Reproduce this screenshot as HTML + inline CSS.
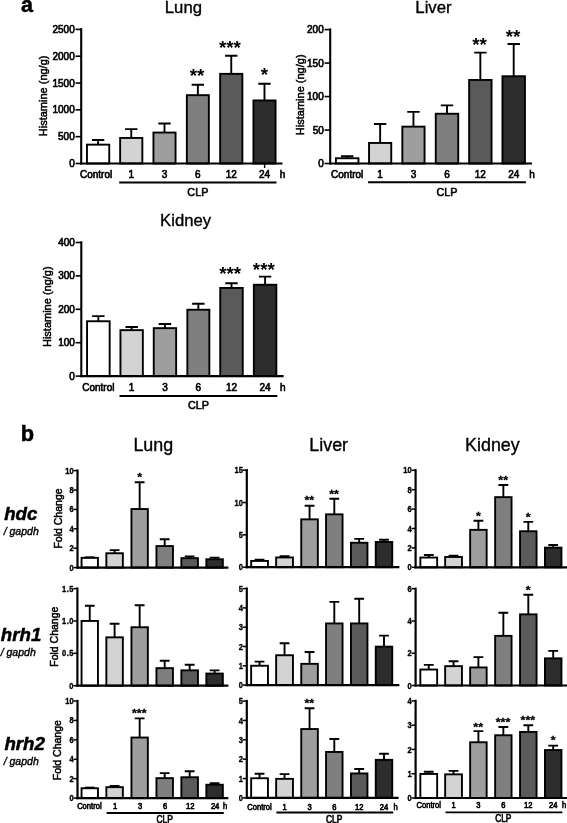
<!DOCTYPE html>
<html lang="en">
<head>
<meta charset="utf-8">
<title>Histamine figure</title>
<style>
html,body{margin:0;padding:0;background:#fff;}
body{width:567px;height:823px;overflow:hidden;}
svg{display:block;font-family:'Liberation Sans',sans-serif;fill:#000;}
svg text{font-family:'Liberation Sans',sans-serif;}
</style>
</head>
<body>
<svg width="567" height="823" viewBox="0 0 567 823">
<rect width="567" height="823" fill="#fff"/>
<text x="20.9" y="11.7" font-size="21.5" font-weight="bold" stroke="#000" stroke-width="0.5">a</text>
<text x="183.4" y="13.4" font-size="16.7" text-anchor="middle" stroke="#000" stroke-width="0.35">Lung</text>
<text x="433.5" y="13.4" font-size="16.8" text-anchor="middle" stroke="#000" stroke-width="0.35">Liver</text>
<text x="185.6" y="226.1" font-size="16.7" text-anchor="middle" stroke="#000" stroke-width="0.35">Kidney</text>
<rect x="86.95" y="144.65" width="22.3" height="18.85" fill="#ffffff" stroke="#000" stroke-width="1.9"/>
<path d="M98.1 144.7V140M91.9 140H104.3" stroke="#000" stroke-width="1.9" fill="none"/>
<rect x="120.15" y="137.95" width="22.2" height="25.55" fill="#d3d3d3" stroke="#000" stroke-width="1.9"/>
<path d="M131.25 138V129.1M125.05 129.1H137.45" stroke="#000" stroke-width="1.9" fill="none"/>
<rect x="153.45" y="132.55" width="22.1" height="30.95" fill="#9e9e9e" stroke="#000" stroke-width="1.9"/>
<path d="M164.5 132.6V123.5M158.3 123.5H170.7" stroke="#000" stroke-width="1.9" fill="none"/>
<rect x="186.85" y="95.15" width="22" height="68.35" fill="#7f7f7f" stroke="#000" stroke-width="1.9"/>
<path d="M197.85 95.2V84.7M191.65 84.7H204.05" stroke="#000" stroke-width="1.9" fill="none"/>
<rect x="220.15" y="73.85" width="22.2" height="89.65" fill="#5a5a5a" stroke="#000" stroke-width="1.9"/>
<path d="M231.25 73.9V55.8M225.05 55.8H237.45" stroke="#000" stroke-width="1.9" fill="none"/>
<rect x="253.45" y="100.45" width="22.1" height="63.05" fill="#2d2d2d" stroke="#000" stroke-width="1.9"/>
<path d="M264.5 100.5V83.7M258.3 83.7H270.7" stroke="#000" stroke-width="1.9" fill="none"/>
<path d="M81.2 28.2V164.55" stroke="#000" stroke-width="2.1" fill="none"/>
<path d="M80.15 163.5H282.5" stroke="#000" stroke-width="2.1" fill="none"/>
<path d="M75.55 163.5H81.2" stroke="#000" stroke-width="1.6" fill="none"/>
<text x="74.75" y="167.08" font-size="10" text-anchor="end" stroke="#000" stroke-width="0.62">0</text>
<path d="M75.55 136.68H81.2" stroke="#000" stroke-width="1.6" fill="none"/>
<text x="74.75" y="140.26" font-size="10" text-anchor="end" stroke="#000" stroke-width="0.62">500</text>
<path d="M75.55 109.86H81.2" stroke="#000" stroke-width="1.6" fill="none"/>
<text x="74.75" y="113.44" font-size="10" text-anchor="end" stroke="#000" stroke-width="0.62">1000</text>
<path d="M75.55 83.04H81.2" stroke="#000" stroke-width="1.6" fill="none"/>
<text x="74.75" y="86.62" font-size="10" text-anchor="end" stroke="#000" stroke-width="0.62">1500</text>
<path d="M75.55 56.22H81.2" stroke="#000" stroke-width="1.6" fill="none"/>
<text x="74.75" y="59.8" font-size="10" text-anchor="end" stroke="#000" stroke-width="0.62">2000</text>
<path d="M75.55 29.4H81.2" stroke="#000" stroke-width="1.6" fill="none"/>
<text x="74.75" y="32.98" font-size="10" text-anchor="end" stroke="#000" stroke-width="0.62">2500</text>
<path d="M264.6 163.5V168" stroke="#000" stroke-width="1.4" fill="none"/>
<text x="197.1" y="82.38" font-size="18.8" text-anchor="middle" font-weight="bold">**</text>
<text x="229.95" y="54.08" font-size="18.8" text-anchor="middle" font-weight="bold">***</text>
<text x="264.3" y="81.38" font-size="18.8" text-anchor="middle" font-weight="bold">*</text>
<text x="96.1" y="177.68" font-size="10" text-anchor="middle" stroke="#000" stroke-width="0.62">Control</text>
<text x="131.25" y="177.68" font-size="10" text-anchor="middle" stroke="#000" stroke-width="0.62">1</text>
<text x="164.5" y="177.68" font-size="10" text-anchor="middle" stroke="#000" stroke-width="0.62">3</text>
<text x="197.85" y="177.68" font-size="10" text-anchor="middle" stroke="#000" stroke-width="0.62">6</text>
<text x="231.25" y="177.68" font-size="10" text-anchor="middle" stroke="#000" stroke-width="0.62">12</text>
<text x="264.5" y="177.68" font-size="10" text-anchor="middle" stroke="#000" stroke-width="0.62">24</text>
<text x="282.5" y="177.68" font-size="10" text-anchor="middle" stroke="#000" stroke-width="0.62">h</text>
<path d="M119.2 182.6H276.5" stroke="#000" stroke-width="2.0" fill="none"/>
<text x="197.85" y="195.87" font-size="10.8" text-anchor="middle" stroke="#000" stroke-width="0.56">CLP</text>
<text transform="translate(47.1 95.9) rotate(-90)" font-size="11" text-anchor="middle" stroke="#000" stroke-width="0.5">Histamine (ng/g)</text>
<rect x="335.95" y="158.25" width="22.5" height="5.25" fill="#ffffff" stroke="#000" stroke-width="1.9"/>
<path d="M347.2 158.3V156.3M341 156.3H353.4" stroke="#000" stroke-width="1.9" fill="none"/>
<rect x="369.05" y="142.95" width="22.2" height="20.55" fill="#d3d3d3" stroke="#000" stroke-width="1.9"/>
<path d="M380.15 143V124M373.95 124H386.35" stroke="#000" stroke-width="1.9" fill="none"/>
<rect x="402.35" y="126.65" width="22.2" height="36.85" fill="#9e9e9e" stroke="#000" stroke-width="1.9"/>
<path d="M413.45 126.7V111.9M407.25 111.9H419.65" stroke="#000" stroke-width="1.9" fill="none"/>
<rect x="435.75" y="113.75" width="22.5" height="49.75" fill="#7f7f7f" stroke="#000" stroke-width="1.9"/>
<path d="M447 113.8V105.4M440.8 105.4H453.2" stroke="#000" stroke-width="1.9" fill="none"/>
<rect x="469.15" y="79.95" width="22.4" height="83.55" fill="#5a5a5a" stroke="#000" stroke-width="1.9"/>
<path d="M480.35 80V52.6M474.15 52.6H486.55" stroke="#000" stroke-width="1.9" fill="none"/>
<rect x="502.45" y="76.25" width="22.5" height="87.25" fill="#2d2d2d" stroke="#000" stroke-width="1.9"/>
<path d="M513.7 76.3V44M507.5 44H519.9" stroke="#000" stroke-width="1.9" fill="none"/>
<path d="M330.2 28.4V164.55" stroke="#000" stroke-width="2.1" fill="none"/>
<path d="M329.15 163.5H532" stroke="#000" stroke-width="2.1" fill="none"/>
<path d="M324.55 163.5H330.2" stroke="#000" stroke-width="1.6" fill="none"/>
<text x="323.75" y="167.08" font-size="10" text-anchor="end" stroke="#000" stroke-width="0.62">0</text>
<path d="M324.55 130.03H330.2" stroke="#000" stroke-width="1.6" fill="none"/>
<text x="323.75" y="133.61" font-size="10" text-anchor="end" stroke="#000" stroke-width="0.62">50</text>
<path d="M324.55 96.55H330.2" stroke="#000" stroke-width="1.6" fill="none"/>
<text x="323.75" y="100.13" font-size="10" text-anchor="end" stroke="#000" stroke-width="0.62">100</text>
<path d="M324.55 63.08H330.2" stroke="#000" stroke-width="1.6" fill="none"/>
<text x="323.75" y="66.66" font-size="10" text-anchor="end" stroke="#000" stroke-width="0.62">150</text>
<path d="M324.55 29.6H330.2" stroke="#000" stroke-width="1.6" fill="none"/>
<text x="323.75" y="33.18" font-size="10" text-anchor="end" stroke="#000" stroke-width="0.62">200</text>
<text x="479.6" y="50.78" font-size="18.8" text-anchor="middle" font-weight="bold">**</text>
<text x="512.95" y="42.58" font-size="18.8" text-anchor="middle" font-weight="bold">**</text>
<text x="347.2" y="177.58" font-size="10" text-anchor="middle" stroke="#000" stroke-width="0.62">Control</text>
<text x="380.15" y="177.58" font-size="10" text-anchor="middle" stroke="#000" stroke-width="0.62">1</text>
<text x="413.45" y="177.58" font-size="10" text-anchor="middle" stroke="#000" stroke-width="0.62">3</text>
<text x="447" y="177.58" font-size="10" text-anchor="middle" stroke="#000" stroke-width="0.62">6</text>
<text x="480.35" y="177.58" font-size="10" text-anchor="middle" stroke="#000" stroke-width="0.62">12</text>
<text x="513.7" y="177.58" font-size="10" text-anchor="middle" stroke="#000" stroke-width="0.62">24</text>
<text x="532" y="177.58" font-size="10" text-anchor="middle" stroke="#000" stroke-width="0.62">h</text>
<path d="M368.1 182.2H525.9" stroke="#000" stroke-width="2.0" fill="none"/>
<text x="447" y="196.17" font-size="10.8" text-anchor="middle" stroke="#000" stroke-width="0.56">CLP</text>
<text transform="translate(304 94.8) rotate(-90)" font-size="11" text-anchor="middle" stroke="#000" stroke-width="0.5">Histamine (ng/g)</text>
<rect x="87.05" y="321.25" width="22.6" height="54.85" fill="#ffffff" stroke="#000" stroke-width="1.9"/>
<path d="M98.35 321.3V316.1M92.15 316.1H104.55" stroke="#000" stroke-width="1.9" fill="none"/>
<rect x="120.45" y="330.15" width="22.4" height="45.95" fill="#d3d3d3" stroke="#000" stroke-width="1.9"/>
<path d="M131.65 330.2V327M125.45 327H137.85" stroke="#000" stroke-width="1.9" fill="none"/>
<rect x="153.75" y="328.15" width="22.4" height="47.95" fill="#9e9e9e" stroke="#000" stroke-width="1.9"/>
<path d="M164.95 328.2V324M158.75 324H171.15" stroke="#000" stroke-width="1.9" fill="none"/>
<rect x="187.35" y="309.75" width="22" height="66.35" fill="#7f7f7f" stroke="#000" stroke-width="1.9"/>
<path d="M198.35 309.8V303.8M192.15 303.8H204.55" stroke="#000" stroke-width="1.9" fill="none"/>
<rect x="220.25" y="287.95" width="22.5" height="88.15" fill="#5a5a5a" stroke="#000" stroke-width="1.9"/>
<path d="M231.5 288V283.3M225.3 283.3H237.7" stroke="#000" stroke-width="1.9" fill="none"/>
<rect x="253.85" y="284.75" width="22.5" height="91.35" fill="#2d2d2d" stroke="#000" stroke-width="1.9"/>
<path d="M265.1 284.8V276.6M258.9 276.6H271.3" stroke="#000" stroke-width="1.9" fill="none"/>
<path d="M81.3 241.3V377.15" stroke="#000" stroke-width="2.1" fill="none"/>
<path d="M80.25 376.1H283.6" stroke="#000" stroke-width="2.1" fill="none"/>
<path d="M75.65 376.1H81.3" stroke="#000" stroke-width="1.6" fill="none"/>
<text x="74.85" y="379.68" font-size="10" text-anchor="end" stroke="#000" stroke-width="0.62">0</text>
<path d="M75.65 342.7H81.3" stroke="#000" stroke-width="1.6" fill="none"/>
<text x="74.85" y="346.28" font-size="10" text-anchor="end" stroke="#000" stroke-width="0.62">100</text>
<path d="M75.65 309.3H81.3" stroke="#000" stroke-width="1.6" fill="none"/>
<text x="74.85" y="312.88" font-size="10" text-anchor="end" stroke="#000" stroke-width="0.62">200</text>
<path d="M75.65 275.9H81.3" stroke="#000" stroke-width="1.6" fill="none"/>
<text x="74.85" y="279.48" font-size="10" text-anchor="end" stroke="#000" stroke-width="0.62">300</text>
<path d="M75.65 242.5H81.3" stroke="#000" stroke-width="1.6" fill="none"/>
<text x="74.85" y="246.08" font-size="10" text-anchor="end" stroke="#000" stroke-width="0.62">400</text>
<text x="230.2" y="279.88" font-size="18.8" text-anchor="middle" font-weight="bold">***</text>
<text x="263.8" y="275.68" font-size="18.8" text-anchor="middle" font-weight="bold">***</text>
<text x="98.35" y="390.78" font-size="10" text-anchor="middle" stroke="#000" stroke-width="0.62">Control</text>
<text x="131.65" y="390.78" font-size="10" text-anchor="middle" stroke="#000" stroke-width="0.62">1</text>
<text x="164.95" y="390.78" font-size="10" text-anchor="middle" stroke="#000" stroke-width="0.62">3</text>
<text x="198.35" y="390.78" font-size="10" text-anchor="middle" stroke="#000" stroke-width="0.62">6</text>
<text x="231.5" y="390.78" font-size="10" text-anchor="middle" stroke="#000" stroke-width="0.62">12</text>
<text x="265.1" y="390.78" font-size="10" text-anchor="middle" stroke="#000" stroke-width="0.62">24</text>
<text x="282.8" y="390.78" font-size="10" text-anchor="middle" stroke="#000" stroke-width="0.62">h</text>
<path d="M119.5 395.9H277.3" stroke="#000" stroke-width="2.0" fill="none"/>
<text x="198.4" y="408.67" font-size="10.8" text-anchor="middle" stroke="#000" stroke-width="0.56">CLP</text>
<text transform="translate(50.5 306.7) rotate(-90)" font-size="11" text-anchor="middle" stroke="#000" stroke-width="0.5">Histamine (ng/g)</text>
<text x="20.7" y="441.3" font-size="21.8" font-weight="bold" stroke="#000" stroke-width="0.5">b</text>
<text x="153.3" y="450.7" font-size="17.9" text-anchor="middle" stroke="#000" stroke-width="0.35">Lung</text>
<text x="328.7" y="450.8" font-size="17.9" text-anchor="middle" stroke="#000" stroke-width="0.35">Liver</text>
<text x="492.4" y="451.2" font-size="17.9" text-anchor="middle" stroke="#000" stroke-width="0.35">Kidney</text>
<text x="4.2" y="519.8" font-size="18.7" font-weight="bold" font-style="italic" stroke="#000" stroke-width="0.5">hdc</text>
<text x="3.7" y="535.3" font-size="10.5" font-style="italic" stroke="#000" stroke-width="0.4">/ gapdh</text>
<text x="0.8" y="640.7" font-size="18.7" font-weight="bold" font-style="italic" stroke="#000" stroke-width="0.5">hrh1</text>
<text x="0.7" y="656.3" font-size="10.5" font-style="italic" stroke="#000" stroke-width="0.4">/ gapdh</text>
<text x="4.4" y="750.0" font-size="18.7" font-weight="bold" font-style="italic" stroke="#000" stroke-width="0.5">hrh2</text>
<text x="3.7" y="764.9" font-size="10.5" font-style="italic" stroke="#000" stroke-width="0.4">/ gapdh</text>
<text transform="translate(61.6 518.5) rotate(-90)" font-size="10.5" text-anchor="middle" stroke="#000" stroke-width="0.5">Fold Change</text>
<text transform="translate(57.9 636.7) rotate(-90)" font-size="10.5" text-anchor="middle" stroke="#000" stroke-width="0.5">Fold Change</text>
<text transform="translate(61.1 750.2) rotate(-90)" font-size="10.5" text-anchor="middle" stroke="#000" stroke-width="0.5">Fold Change</text>
<rect x="81.55" y="557.85" width="16.4" height="9.75" fill="#ffffff" stroke="#000" stroke-width="1.9"/>
<path d="M84.85 557.3H94.65" stroke="#000" stroke-width="1.9" fill="none"/>
<rect x="106.35" y="553.25" width="16.5" height="14.35" fill="#d3d3d3" stroke="#000" stroke-width="1.9"/>
<path d="M114.6 553.3V550.1M109.7 550.1H119.5" stroke="#000" stroke-width="1.9" fill="none"/>
<rect x="131.45" y="509.05" width="16.4" height="58.55" fill="#9e9e9e" stroke="#000" stroke-width="1.9"/>
<path d="M139.65 509.1V482.3M134.75 482.3H144.55" stroke="#000" stroke-width="1.9" fill="none"/>
<rect x="156.45" y="546.05" width="16.5" height="21.55" fill="#7f7f7f" stroke="#000" stroke-width="1.9"/>
<path d="M164.7 546.1V539.3M159.8 539.3H169.6" stroke="#000" stroke-width="1.9" fill="none"/>
<rect x="181.35" y="558.15" width="16.6" height="9.45" fill="#5a5a5a" stroke="#000" stroke-width="1.9"/>
<path d="M189.65 558.2V556.4M184.75 556.4H194.55" stroke="#000" stroke-width="1.9" fill="none"/>
<rect x="206.35" y="559.25" width="16.5" height="8.35" fill="#2d2d2d" stroke="#000" stroke-width="1.9"/>
<path d="M214.6 559.3V557.6M209.7 557.6H219.5" stroke="#000" stroke-width="1.9" fill="none"/>
<path d="M77.5 469.45V568.7" stroke="#000" stroke-width="2.2" fill="none"/>
<path d="M76.4 567.6H228.4" stroke="#000" stroke-width="2.2" fill="none"/>
<path d="M73.4 567.6H77.5" stroke="#000" stroke-width="1.5" fill="none"/>
<text transform="translate(73.6 570.67) scale(1 1.2)" font-size="7.5" text-anchor="end" stroke="#000" stroke-width="0.3" font-weight="bold">0</text>
<path d="M73.4 548.2H77.5" stroke="#000" stroke-width="1.5" fill="none"/>
<text transform="translate(73.6 551.27) scale(1 1.2)" font-size="7.5" text-anchor="end" stroke="#000" stroke-width="0.3" font-weight="bold">2</text>
<path d="M73.4 528.8H77.5" stroke="#000" stroke-width="1.5" fill="none"/>
<text transform="translate(73.6 531.87) scale(1 1.2)" font-size="7.5" text-anchor="end" stroke="#000" stroke-width="0.3" font-weight="bold">4</text>
<path d="M73.4 509.4H77.5" stroke="#000" stroke-width="1.5" fill="none"/>
<text transform="translate(73.6 512.47) scale(1 1.2)" font-size="7.5" text-anchor="end" stroke="#000" stroke-width="0.3" font-weight="bold">6</text>
<path d="M73.4 490H77.5" stroke="#000" stroke-width="1.5" fill="none"/>
<text transform="translate(73.6 493.07) scale(1 1.2)" font-size="7.5" text-anchor="end" stroke="#000" stroke-width="0.3" font-weight="bold">8</text>
<path d="M73.4 470.6H77.5" stroke="#000" stroke-width="1.5" fill="none"/>
<text transform="translate(73.6 473.67) scale(1 1.2)" font-size="7.5" text-anchor="end" stroke="#000" stroke-width="0.3" font-weight="bold">10</text>
<text transform="translate(139.65 481.33) scale(1 0.8)" font-size="12.5" text-anchor="middle" stroke="#000" stroke-width="0.35" font-weight="bold">*</text>
<rect x="81.55" y="620.95" width="16.4" height="64.75" fill="#ffffff" stroke="#000" stroke-width="1.9"/>
<path d="M89.75 621V605.7M84.85 605.7H94.65" stroke="#000" stroke-width="1.9" fill="none"/>
<rect x="106.35" y="637.35" width="16.5" height="48.35" fill="#d3d3d3" stroke="#000" stroke-width="1.9"/>
<path d="M114.6 637.4V623.8M109.7 623.8H119.5" stroke="#000" stroke-width="1.9" fill="none"/>
<rect x="131.45" y="627.25" width="16.4" height="58.45" fill="#9e9e9e" stroke="#000" stroke-width="1.9"/>
<path d="M139.65 627.3V605.2M134.75 605.2H144.55" stroke="#000" stroke-width="1.9" fill="none"/>
<rect x="156.45" y="668.15" width="16.5" height="17.55" fill="#7f7f7f" stroke="#000" stroke-width="1.9"/>
<path d="M164.7 668.2V660.7M159.8 660.7H169.6" stroke="#000" stroke-width="1.9" fill="none"/>
<rect x="181.35" y="670.35" width="16.6" height="15.35" fill="#5a5a5a" stroke="#000" stroke-width="1.9"/>
<path d="M189.65 670.4V664.7M184.75 664.7H194.55" stroke="#000" stroke-width="1.9" fill="none"/>
<rect x="206.35" y="673.55" width="16.5" height="12.15" fill="#2d2d2d" stroke="#000" stroke-width="1.9"/>
<path d="M214.6 673.6V670.4M209.7 670.4H219.5" stroke="#000" stroke-width="1.9" fill="none"/>
<path d="M77.4 587.45V686.8" stroke="#000" stroke-width="2.2" fill="none"/>
<path d="M76.3 685.7H228.4" stroke="#000" stroke-width="2.2" fill="none"/>
<path d="M73.3 685.7H77.4" stroke="#000" stroke-width="1.5" fill="none"/>
<text transform="translate(73.5 688.77) scale(1 1.2)" font-size="7.5" text-anchor="end" stroke="#000" stroke-width="0.3" font-weight="bold">0</text>
<path d="M73.3 653.33H77.4" stroke="#000" stroke-width="1.5" fill="none"/>
<text transform="translate(74 656.41) scale(1 1.2)" font-size="7.5" text-anchor="end" stroke="#000" stroke-width="0.3" font-weight="bold" letter-spacing="0.5">0.5</text>
<path d="M73.3 620.97H77.4" stroke="#000" stroke-width="1.5" fill="none"/>
<text transform="translate(74 624.04) scale(1 1.2)" font-size="7.5" text-anchor="end" stroke="#000" stroke-width="0.3" font-weight="bold" letter-spacing="0.5">1.0</text>
<path d="M73.3 588.6H77.4" stroke="#000" stroke-width="1.5" fill="none"/>
<text transform="translate(74 591.67) scale(1 1.2)" font-size="7.5" text-anchor="end" stroke="#000" stroke-width="0.3" font-weight="bold" letter-spacing="0.5">1.5</text>
<rect x="81.55" y="788.25" width="16.4" height="9.85" fill="#ffffff" stroke="#000" stroke-width="1.9"/>
<path d="M84.85 787.6H94.65" stroke="#000" stroke-width="1.9" fill="none"/>
<rect x="106.35" y="787.15" width="16.5" height="10.95" fill="#d3d3d3" stroke="#000" stroke-width="1.9"/>
<path d="M114.6 787.2V786M109.7 786H119.5" stroke="#000" stroke-width="1.9" fill="none"/>
<rect x="131.45" y="737.55" width="16.4" height="60.55" fill="#9e9e9e" stroke="#000" stroke-width="1.9"/>
<path d="M139.65 737.6V718.4M134.75 718.4H144.55" stroke="#000" stroke-width="1.9" fill="none"/>
<rect x="156.45" y="778.15" width="16.5" height="19.95" fill="#7f7f7f" stroke="#000" stroke-width="1.9"/>
<path d="M164.7 778.2V773.1M159.8 773.1H169.6" stroke="#000" stroke-width="1.9" fill="none"/>
<rect x="181.35" y="777.25" width="16.6" height="20.85" fill="#5a5a5a" stroke="#000" stroke-width="1.9"/>
<path d="M189.65 777.3V771.3M184.75 771.3H194.55" stroke="#000" stroke-width="1.9" fill="none"/>
<rect x="206.35" y="784.75" width="16.5" height="13.35" fill="#2d2d2d" stroke="#000" stroke-width="1.9"/>
<path d="M214.6 784.8V783.3M209.7 783.3H219.5" stroke="#000" stroke-width="1.9" fill="none"/>
<path d="M77.5 699.85V799.2" stroke="#000" stroke-width="2.2" fill="none"/>
<path d="M76.4 798.1H228.4" stroke="#000" stroke-width="2.2" fill="none"/>
<path d="M73.4 798.1H77.5" stroke="#000" stroke-width="1.5" fill="none"/>
<text transform="translate(73.6 801.17) scale(1 1.2)" font-size="7.5" text-anchor="end" stroke="#000" stroke-width="0.3" font-weight="bold">0</text>
<path d="M73.4 778.68H77.5" stroke="#000" stroke-width="1.5" fill="none"/>
<text transform="translate(73.6 781.75) scale(1 1.2)" font-size="7.5" text-anchor="end" stroke="#000" stroke-width="0.3" font-weight="bold">2</text>
<path d="M73.4 759.26H77.5" stroke="#000" stroke-width="1.5" fill="none"/>
<text transform="translate(73.6 762.33) scale(1 1.2)" font-size="7.5" text-anchor="end" stroke="#000" stroke-width="0.3" font-weight="bold">4</text>
<path d="M73.4 739.84H77.5" stroke="#000" stroke-width="1.5" fill="none"/>
<text transform="translate(73.6 742.91) scale(1 1.2)" font-size="7.5" text-anchor="end" stroke="#000" stroke-width="0.3" font-weight="bold">6</text>
<path d="M73.4 720.42H77.5" stroke="#000" stroke-width="1.5" fill="none"/>
<text transform="translate(73.6 723.49) scale(1 1.2)" font-size="7.5" text-anchor="end" stroke="#000" stroke-width="0.3" font-weight="bold">8</text>
<path d="M73.4 701H77.5" stroke="#000" stroke-width="1.5" fill="none"/>
<text transform="translate(73.6 704.07) scale(1 1.2)" font-size="7.5" text-anchor="end" stroke="#000" stroke-width="0.3" font-weight="bold">10</text>
<text transform="translate(139.25 716.59) scale(1 0.8)" font-size="12.5" text-anchor="middle" stroke="#000" stroke-width="0.35" font-weight="bold">***</text>
<text transform="translate(89.35 809.46) scale(1 1.2)" font-size="7.6" text-anchor="middle" stroke="#000" stroke-width="0.55">Control</text>
<text transform="translate(115.1 809.46) scale(1 1.2)" font-size="7.6" text-anchor="middle" stroke="#000" stroke-width="0.55">1</text>
<text transform="translate(140.15 809.46) scale(1 1.2)" font-size="7.6" text-anchor="middle" stroke="#000" stroke-width="0.55">3</text>
<text transform="translate(165.2 809.46) scale(1 1.2)" font-size="7.6" text-anchor="middle" stroke="#000" stroke-width="0.55">6</text>
<text transform="translate(190.15 809.46) scale(1 1.2)" font-size="7.6" text-anchor="middle" stroke="#000" stroke-width="0.55">12</text>
<text transform="translate(215.1 809.46) scale(1 1.2)" font-size="7.6" text-anchor="middle" stroke="#000" stroke-width="0.55">24</text>
<text transform="translate(225.1 809.46) scale(1 1.2)" font-size="7.6" text-anchor="middle" stroke="#000" stroke-width="0.55">h</text>
<path d="M106.6 813H223.8" stroke="#000" stroke-width="1.8" fill="none"/>
<text transform="translate(164.6 823.41) scale(1 1.2)" font-size="8.4" text-anchor="middle" stroke="#000" stroke-width="0.55">CLP</text>
<rect x="251.15" y="560.95" width="16.8" height="6.25" fill="#ffffff" stroke="#000" stroke-width="1.9"/>
<path d="M259.55 561V559.8M254.65 559.8H264.45" stroke="#000" stroke-width="1.9" fill="none"/>
<rect x="276.15" y="557.45" width="16.8" height="9.75" fill="#d3d3d3" stroke="#000" stroke-width="1.9"/>
<path d="M284.55 557.5V556.3M279.65 556.3H289.45" stroke="#000" stroke-width="1.9" fill="none"/>
<rect x="301.25" y="519.35" width="16.6" height="47.85" fill="#9e9e9e" stroke="#000" stroke-width="1.9"/>
<path d="M309.55 519.4V505.8M304.65 505.8H314.45" stroke="#000" stroke-width="1.9" fill="none"/>
<rect x="326.05" y="514.35" width="16.5" height="52.85" fill="#7f7f7f" stroke="#000" stroke-width="1.9"/>
<path d="M334.3 514.4V498.7M329.4 498.7H339.2" stroke="#000" stroke-width="1.9" fill="none"/>
<rect x="350.95" y="542.75" width="16.5" height="24.45" fill="#5a5a5a" stroke="#000" stroke-width="1.9"/>
<path d="M359.2 542.8V538.9M354.3 538.9H364.1" stroke="#000" stroke-width="1.9" fill="none"/>
<rect x="375.75" y="541.95" width="16.5" height="25.25" fill="#2d2d2d" stroke="#000" stroke-width="1.9"/>
<path d="M384 542V539.7M379.1 539.7H388.9" stroke="#000" stroke-width="1.9" fill="none"/>
<path d="M246.8 469.05V568.3" stroke="#000" stroke-width="2.2" fill="none"/>
<path d="M245.7 567.2H399.4" stroke="#000" stroke-width="2.2" fill="none"/>
<path d="M242.7 567.2H246.8" stroke="#000" stroke-width="1.5" fill="none"/>
<text transform="translate(242.9 570.27) scale(1 1.2)" font-size="7.5" text-anchor="end" stroke="#000" stroke-width="0.3" font-weight="bold">0</text>
<path d="M242.7 534.87H246.8" stroke="#000" stroke-width="1.5" fill="none"/>
<text transform="translate(242.9 537.94) scale(1 1.2)" font-size="7.5" text-anchor="end" stroke="#000" stroke-width="0.3" font-weight="bold">5</text>
<path d="M242.7 502.53H246.8" stroke="#000" stroke-width="1.5" fill="none"/>
<text transform="translate(242.9 505.61) scale(1 1.2)" font-size="7.5" text-anchor="end" stroke="#000" stroke-width="0.3" font-weight="bold">10</text>
<path d="M242.7 470.2H246.8" stroke="#000" stroke-width="1.5" fill="none"/>
<text transform="translate(242.9 473.27) scale(1 1.2)" font-size="7.5" text-anchor="end" stroke="#000" stroke-width="0.3" font-weight="bold">15</text>
<text transform="translate(309.35 503.99) scale(1 0.8)" font-size="12.5" text-anchor="middle" stroke="#000" stroke-width="0.35" font-weight="bold">**</text>
<text transform="translate(334.1 498) scale(1 0.8)" font-size="12.5" text-anchor="middle" stroke="#000" stroke-width="0.35" font-weight="bold">**</text>
<rect x="251.15" y="665.75" width="16.8" height="19.35" fill="#ffffff" stroke="#000" stroke-width="1.9"/>
<path d="M259.55 665.8V661.6M254.65 661.6H264.45" stroke="#000" stroke-width="1.9" fill="none"/>
<rect x="276.15" y="655.25" width="16.8" height="29.85" fill="#d3d3d3" stroke="#000" stroke-width="1.9"/>
<path d="M284.55 655.3V643.2M279.65 643.2H289.45" stroke="#000" stroke-width="1.9" fill="none"/>
<rect x="301.25" y="663.85" width="16.6" height="21.25" fill="#9e9e9e" stroke="#000" stroke-width="1.9"/>
<path d="M309.55 663.9V652M304.65 652H314.45" stroke="#000" stroke-width="1.9" fill="none"/>
<rect x="326.05" y="623.45" width="16.5" height="61.65" fill="#7f7f7f" stroke="#000" stroke-width="1.9"/>
<path d="M334.3 623.5V601.9M329.4 601.9H339.2" stroke="#000" stroke-width="1.9" fill="none"/>
<rect x="350.95" y="623.45" width="16.5" height="61.65" fill="#5a5a5a" stroke="#000" stroke-width="1.9"/>
<path d="M359.2 623.5V598.7M354.3 598.7H364.1" stroke="#000" stroke-width="1.9" fill="none"/>
<rect x="375.75" y="646.65" width="16.5" height="38.45" fill="#2d2d2d" stroke="#000" stroke-width="1.9"/>
<path d="M384 646.7V635.6M379.1 635.6H388.9" stroke="#000" stroke-width="1.9" fill="none"/>
<path d="M246.8 587.45V686.2" stroke="#000" stroke-width="2.2" fill="none"/>
<path d="M245.7 685.1H399.4" stroke="#000" stroke-width="2.2" fill="none"/>
<path d="M242.7 685.1H246.8" stroke="#000" stroke-width="1.5" fill="none"/>
<text transform="translate(242.9 688.17) scale(1 1.2)" font-size="7.5" text-anchor="end" stroke="#000" stroke-width="0.3" font-weight="bold">0</text>
<path d="M242.7 665.8H246.8" stroke="#000" stroke-width="1.5" fill="none"/>
<text transform="translate(242.9 668.87) scale(1 1.2)" font-size="7.5" text-anchor="end" stroke="#000" stroke-width="0.3" font-weight="bold">1</text>
<path d="M242.7 646.5H246.8" stroke="#000" stroke-width="1.5" fill="none"/>
<text transform="translate(242.9 649.57) scale(1 1.2)" font-size="7.5" text-anchor="end" stroke="#000" stroke-width="0.3" font-weight="bold">2</text>
<path d="M242.7 627.2H246.8" stroke="#000" stroke-width="1.5" fill="none"/>
<text transform="translate(242.9 630.27) scale(1 1.2)" font-size="7.5" text-anchor="end" stroke="#000" stroke-width="0.3" font-weight="bold">3</text>
<path d="M242.7 607.9H246.8" stroke="#000" stroke-width="1.5" fill="none"/>
<text transform="translate(242.9 610.97) scale(1 1.2)" font-size="7.5" text-anchor="end" stroke="#000" stroke-width="0.3" font-weight="bold">4</text>
<path d="M242.7 588.6H246.8" stroke="#000" stroke-width="1.5" fill="none"/>
<text transform="translate(242.9 591.67) scale(1 1.2)" font-size="7.5" text-anchor="end" stroke="#000" stroke-width="0.3" font-weight="bold">5</text>
<rect x="251.15" y="778.25" width="16.8" height="19.65" fill="#ffffff" stroke="#000" stroke-width="1.9"/>
<path d="M259.55 778.3V773.8M254.65 773.8H264.45" stroke="#000" stroke-width="1.9" fill="none"/>
<rect x="276.15" y="778.85" width="16.8" height="19.05" fill="#d3d3d3" stroke="#000" stroke-width="1.9"/>
<path d="M284.55 778.9V774.1M279.65 774.1H289.45" stroke="#000" stroke-width="1.9" fill="none"/>
<rect x="301.25" y="729.05" width="16.6" height="68.85" fill="#9e9e9e" stroke="#000" stroke-width="1.9"/>
<path d="M309.55 729.1V708.3M304.65 708.3H314.45" stroke="#000" stroke-width="1.9" fill="none"/>
<rect x="326.05" y="751.95" width="16.5" height="45.95" fill="#7f7f7f" stroke="#000" stroke-width="1.9"/>
<path d="M334.3 752V739M329.4 739H339.2" stroke="#000" stroke-width="1.9" fill="none"/>
<rect x="350.95" y="773.45" width="16.5" height="24.45" fill="#5a5a5a" stroke="#000" stroke-width="1.9"/>
<path d="M359.2 773.5V769M354.3 769H364.1" stroke="#000" stroke-width="1.9" fill="none"/>
<rect x="375.75" y="759.85" width="16.5" height="38.05" fill="#2d2d2d" stroke="#000" stroke-width="1.9"/>
<path d="M384 759.9V753.8M379.1 753.8H388.9" stroke="#000" stroke-width="1.9" fill="none"/>
<path d="M246.8 699.95V799" stroke="#000" stroke-width="2.2" fill="none"/>
<path d="M245.7 797.9H398.6" stroke="#000" stroke-width="2.2" fill="none"/>
<path d="M242.7 797.9H246.8" stroke="#000" stroke-width="1.5" fill="none"/>
<text transform="translate(242.9 800.97) scale(1 1.2)" font-size="7.5" text-anchor="end" stroke="#000" stroke-width="0.3" font-weight="bold">0</text>
<path d="M242.7 778.54H246.8" stroke="#000" stroke-width="1.5" fill="none"/>
<text transform="translate(242.9 781.61) scale(1 1.2)" font-size="7.5" text-anchor="end" stroke="#000" stroke-width="0.3" font-weight="bold">1</text>
<path d="M242.7 759.18H246.8" stroke="#000" stroke-width="1.5" fill="none"/>
<text transform="translate(242.9 762.25) scale(1 1.2)" font-size="7.5" text-anchor="end" stroke="#000" stroke-width="0.3" font-weight="bold">2</text>
<path d="M242.7 739.82H246.8" stroke="#000" stroke-width="1.5" fill="none"/>
<text transform="translate(242.9 742.89) scale(1 1.2)" font-size="7.5" text-anchor="end" stroke="#000" stroke-width="0.3" font-weight="bold">3</text>
<path d="M242.7 720.46H246.8" stroke="#000" stroke-width="1.5" fill="none"/>
<text transform="translate(242.9 723.53) scale(1 1.2)" font-size="7.5" text-anchor="end" stroke="#000" stroke-width="0.3" font-weight="bold">4</text>
<path d="M242.7 701.1H246.8" stroke="#000" stroke-width="1.5" fill="none"/>
<text transform="translate(242.9 704.17) scale(1 1.2)" font-size="7.5" text-anchor="end" stroke="#000" stroke-width="0.3" font-weight="bold">5</text>
<text transform="translate(309.35 707.18) scale(1 0.8)" font-size="12.5" text-anchor="middle" stroke="#000" stroke-width="0.35" font-weight="bold">**</text>
<text transform="translate(259.55 809.76) scale(1 1.2)" font-size="7.6" text-anchor="middle" stroke="#000" stroke-width="0.55">Control</text>
<text transform="translate(284.55 809.76) scale(1 1.2)" font-size="7.6" text-anchor="middle" stroke="#000" stroke-width="0.55">1</text>
<text transform="translate(309.55 809.76) scale(1 1.2)" font-size="7.6" text-anchor="middle" stroke="#000" stroke-width="0.55">3</text>
<text transform="translate(334.3 809.76) scale(1 1.2)" font-size="7.6" text-anchor="middle" stroke="#000" stroke-width="0.55">6</text>
<text transform="translate(359.2 809.76) scale(1 1.2)" font-size="7.6" text-anchor="middle" stroke="#000" stroke-width="0.55">12</text>
<text transform="translate(384 809.76) scale(1 1.2)" font-size="7.6" text-anchor="middle" stroke="#000" stroke-width="0.55">24</text>
<text transform="translate(395.6 809.76) scale(1 1.2)" font-size="7.6" text-anchor="middle" stroke="#000" stroke-width="0.55">h</text>
<path d="M276.4 812.5H393.2" stroke="#000" stroke-width="1.8" fill="none"/>
<text transform="translate(334.2 823.41) scale(1 1.2)" font-size="8.4" text-anchor="middle" stroke="#000" stroke-width="0.55">CLP</text>
<rect x="420.35" y="557.55" width="16.8" height="9.75" fill="#ffffff" stroke="#000" stroke-width="1.9"/>
<path d="M428.75 557.6V555M423.85 555H433.65" stroke="#000" stroke-width="1.9" fill="none"/>
<rect x="445.15" y="556.95" width="16.8" height="10.35" fill="#d3d3d3" stroke="#000" stroke-width="1.9"/>
<path d="M453.55 557V555.6M448.65 555.6H458.45" stroke="#000" stroke-width="1.9" fill="none"/>
<rect x="470.15" y="529.85" width="16.5" height="37.45" fill="#9e9e9e" stroke="#000" stroke-width="1.9"/>
<path d="M478.4 529.9V520.7M473.5 520.7H483.3" stroke="#000" stroke-width="1.9" fill="none"/>
<rect x="495.15" y="497.15" width="16.4" height="70.15" fill="#7f7f7f" stroke="#000" stroke-width="1.9"/>
<path d="M503.35 497.2V485M498.45 485H508.25" stroke="#000" stroke-width="1.9" fill="none"/>
<rect x="520.05" y="531.25" width="16.5" height="36.05" fill="#5a5a5a" stroke="#000" stroke-width="1.9"/>
<path d="M528.3 531.3V521.9M523.4 521.9H533.2" stroke="#000" stroke-width="1.9" fill="none"/>
<rect x="544.95" y="547.65" width="16.5" height="19.65" fill="#2d2d2d" stroke="#000" stroke-width="1.9"/>
<path d="M553.2 547.7V545M548.3 545H558.1" stroke="#000" stroke-width="1.9" fill="none"/>
<path d="M415.6 469.15V568.4" stroke="#000" stroke-width="2.2" fill="none"/>
<path d="M414.5 567.3H567" stroke="#000" stroke-width="2.2" fill="none"/>
<path d="M411.5 567.3H415.6" stroke="#000" stroke-width="1.5" fill="none"/>
<text transform="translate(411.7 570.37) scale(1 1.2)" font-size="7.5" text-anchor="end" stroke="#000" stroke-width="0.3" font-weight="bold">0</text>
<path d="M411.5 547.9H415.6" stroke="#000" stroke-width="1.5" fill="none"/>
<text transform="translate(411.7 550.97) scale(1 1.2)" font-size="7.5" text-anchor="end" stroke="#000" stroke-width="0.3" font-weight="bold">2</text>
<path d="M411.5 528.5H415.6" stroke="#000" stroke-width="1.5" fill="none"/>
<text transform="translate(411.7 531.57) scale(1 1.2)" font-size="7.5" text-anchor="end" stroke="#000" stroke-width="0.3" font-weight="bold">4</text>
<path d="M411.5 509.1H415.6" stroke="#000" stroke-width="1.5" fill="none"/>
<text transform="translate(411.7 512.17) scale(1 1.2)" font-size="7.5" text-anchor="end" stroke="#000" stroke-width="0.3" font-weight="bold">6</text>
<path d="M411.5 489.7H415.6" stroke="#000" stroke-width="1.5" fill="none"/>
<text transform="translate(411.7 492.77) scale(1 1.2)" font-size="7.5" text-anchor="end" stroke="#000" stroke-width="0.3" font-weight="bold">8</text>
<path d="M411.5 470.3H415.6" stroke="#000" stroke-width="1.5" fill="none"/>
<text transform="translate(411.7 473.37) scale(1 1.2)" font-size="7.5" text-anchor="end" stroke="#000" stroke-width="0.3" font-weight="bold">10</text>
<text transform="translate(478.4 520.01) scale(1 0.8)" font-size="12.5" text-anchor="middle" stroke="#000" stroke-width="0.35" font-weight="bold">*</text>
<text transform="translate(503.15 484.09) scale(1 0.8)" font-size="12.5" text-anchor="middle" stroke="#000" stroke-width="0.35" font-weight="bold">**</text>
<text transform="translate(528.3 521.39) scale(1 0.8)" font-size="12.5" text-anchor="middle" stroke="#000" stroke-width="0.35" font-weight="bold">*</text>
<rect x="420.35" y="669.55" width="16.8" height="15.95" fill="#ffffff" stroke="#000" stroke-width="1.9"/>
<path d="M428.75 669.6V664.9M423.85 664.9H433.65" stroke="#000" stroke-width="1.9" fill="none"/>
<rect x="445.15" y="666.15" width="16.8" height="19.35" fill="#d3d3d3" stroke="#000" stroke-width="1.9"/>
<path d="M453.55 666.2V661.2M448.65 661.2H458.45" stroke="#000" stroke-width="1.9" fill="none"/>
<rect x="470.15" y="667.45" width="16.5" height="18.05" fill="#9e9e9e" stroke="#000" stroke-width="1.9"/>
<path d="M478.4 667.5V657.1M473.5 657.1H483.3" stroke="#000" stroke-width="1.9" fill="none"/>
<rect x="495.15" y="635.85" width="16.4" height="49.65" fill="#7f7f7f" stroke="#000" stroke-width="1.9"/>
<path d="M503.35 635.9V612.8M498.45 612.8H508.25" stroke="#000" stroke-width="1.9" fill="none"/>
<rect x="520.05" y="614.35" width="16.5" height="71.15" fill="#5a5a5a" stroke="#000" stroke-width="1.9"/>
<path d="M528.3 614.4V594.7M523.4 594.7H533.2" stroke="#000" stroke-width="1.9" fill="none"/>
<rect x="544.95" y="658.35" width="16.5" height="27.15" fill="#2d2d2d" stroke="#000" stroke-width="1.9"/>
<path d="M553.2 658.4V650.9M548.3 650.9H558.1" stroke="#000" stroke-width="1.9" fill="none"/>
<path d="M415.6 587.55V686.6" stroke="#000" stroke-width="2.2" fill="none"/>
<path d="M414.5 685.5H567" stroke="#000" stroke-width="2.2" fill="none"/>
<path d="M411.5 685.5H415.6" stroke="#000" stroke-width="1.5" fill="none"/>
<text transform="translate(411.7 688.57) scale(1 1.2)" font-size="7.5" text-anchor="end" stroke="#000" stroke-width="0.3" font-weight="bold">0</text>
<path d="M411.5 653.23H415.6" stroke="#000" stroke-width="1.5" fill="none"/>
<text transform="translate(411.7 656.31) scale(1 1.2)" font-size="7.5" text-anchor="end" stroke="#000" stroke-width="0.3" font-weight="bold">2</text>
<path d="M411.5 620.97H415.6" stroke="#000" stroke-width="1.5" fill="none"/>
<text transform="translate(411.7 624.04) scale(1 1.2)" font-size="7.5" text-anchor="end" stroke="#000" stroke-width="0.3" font-weight="bold">4</text>
<path d="M411.5 588.7H415.6" stroke="#000" stroke-width="1.5" fill="none"/>
<text transform="translate(411.7 591.77) scale(1 1.2)" font-size="7.5" text-anchor="end" stroke="#000" stroke-width="0.3" font-weight="bold">6</text>
<text transform="translate(528.3 594.28) scale(1 0.8)" font-size="12.5" text-anchor="middle" stroke="#000" stroke-width="0.35" font-weight="bold">*</text>
<rect x="420.35" y="773.95" width="16.8" height="24.05" fill="#ffffff" stroke="#000" stroke-width="1.9"/>
<path d="M428.75 774V771.8M423.85 771.8H433.65" stroke="#000" stroke-width="1.9" fill="none"/>
<rect x="445.15" y="774.35" width="16.8" height="23.65" fill="#d3d3d3" stroke="#000" stroke-width="1.9"/>
<path d="M453.55 774.4V770.9M448.65 770.9H458.45" stroke="#000" stroke-width="1.9" fill="none"/>
<rect x="470.15" y="742.25" width="16.5" height="55.75" fill="#9e9e9e" stroke="#000" stroke-width="1.9"/>
<path d="M478.4 742.3V731.1M473.5 731.1H483.3" stroke="#000" stroke-width="1.9" fill="none"/>
<rect x="495.15" y="735.25" width="16.4" height="62.75" fill="#7f7f7f" stroke="#000" stroke-width="1.9"/>
<path d="M503.35 735.3V727M498.45 727H508.25" stroke="#000" stroke-width="1.9" fill="none"/>
<rect x="520.05" y="731.95" width="16.5" height="66.05" fill="#5a5a5a" stroke="#000" stroke-width="1.9"/>
<path d="M528.3 732V725.3M523.4 725.3H533.2" stroke="#000" stroke-width="1.9" fill="none"/>
<rect x="544.95" y="750.05" width="16.5" height="47.95" fill="#2d2d2d" stroke="#000" stroke-width="1.9"/>
<path d="M553.2 750.1V745.6M548.3 745.6H558.1" stroke="#000" stroke-width="1.9" fill="none"/>
<path d="M415.6 699.75V799.1" stroke="#000" stroke-width="2.2" fill="none"/>
<path d="M414.5 798H567" stroke="#000" stroke-width="2.2" fill="none"/>
<path d="M411.5 798H415.6" stroke="#000" stroke-width="1.5" fill="none"/>
<text transform="translate(411.7 801.07) scale(1 1.2)" font-size="7.5" text-anchor="end" stroke="#000" stroke-width="0.3" font-weight="bold">0</text>
<path d="M411.5 773.73H415.6" stroke="#000" stroke-width="1.5" fill="none"/>
<text transform="translate(411.7 776.8) scale(1 1.2)" font-size="7.5" text-anchor="end" stroke="#000" stroke-width="0.3" font-weight="bold">1</text>
<path d="M411.5 749.45H415.6" stroke="#000" stroke-width="1.5" fill="none"/>
<text transform="translate(411.7 752.52) scale(1 1.2)" font-size="7.5" text-anchor="end" stroke="#000" stroke-width="0.3" font-weight="bold">2</text>
<path d="M411.5 725.17H415.6" stroke="#000" stroke-width="1.5" fill="none"/>
<text transform="translate(411.7 728.25) scale(1 1.2)" font-size="7.5" text-anchor="end" stroke="#000" stroke-width="0.3" font-weight="bold">3</text>
<path d="M411.5 700.9H415.6" stroke="#000" stroke-width="1.5" fill="none"/>
<text transform="translate(411.7 703.97) scale(1 1.2)" font-size="7.5" text-anchor="end" stroke="#000" stroke-width="0.3" font-weight="bold">4</text>
<text transform="translate(478.2 730.99) scale(1 0.8)" font-size="12.5" text-anchor="middle" stroke="#000" stroke-width="0.35" font-weight="bold">**</text>
<text transform="translate(502.95 725.88) scale(1 0.8)" font-size="12.5" text-anchor="middle" stroke="#000" stroke-width="0.35" font-weight="bold">***</text>
<text transform="translate(527.9 724.39) scale(1 0.8)" font-size="12.5" text-anchor="middle" stroke="#000" stroke-width="0.35" font-weight="bold">***</text>
<text transform="translate(553.2 744.39) scale(1 0.8)" font-size="12.5" text-anchor="middle" stroke="#000" stroke-width="0.35" font-weight="bold">*</text>
<text transform="translate(428.75 808.36) scale(1 1.2)" font-size="7.6" text-anchor="middle" stroke="#000" stroke-width="0.55">Control</text>
<text transform="translate(453.55 808.36) scale(1 1.2)" font-size="7.6" text-anchor="middle" stroke="#000" stroke-width="0.55">1</text>
<text transform="translate(478.4 808.36) scale(1 1.2)" font-size="7.6" text-anchor="middle" stroke="#000" stroke-width="0.55">3</text>
<text transform="translate(503.35 808.36) scale(1 1.2)" font-size="7.6" text-anchor="middle" stroke="#000" stroke-width="0.55">6</text>
<text transform="translate(528.3 808.36) scale(1 1.2)" font-size="7.6" text-anchor="middle" stroke="#000" stroke-width="0.55">12</text>
<text transform="translate(553.2 808.36) scale(1 1.2)" font-size="7.6" text-anchor="middle" stroke="#000" stroke-width="0.55">24</text>
<text transform="translate(564 808.36) scale(1 1.2)" font-size="7.6" text-anchor="middle" stroke="#000" stroke-width="0.55">h</text>
<path d="M445.4 812.3H562.4" stroke="#000" stroke-width="1.8" fill="none"/>
<text transform="translate(503.3 821.71) scale(1 1.2)" font-size="8.4" text-anchor="middle" stroke="#000" stroke-width="0.55">CLP</text>
</svg>
</body>
</html>
